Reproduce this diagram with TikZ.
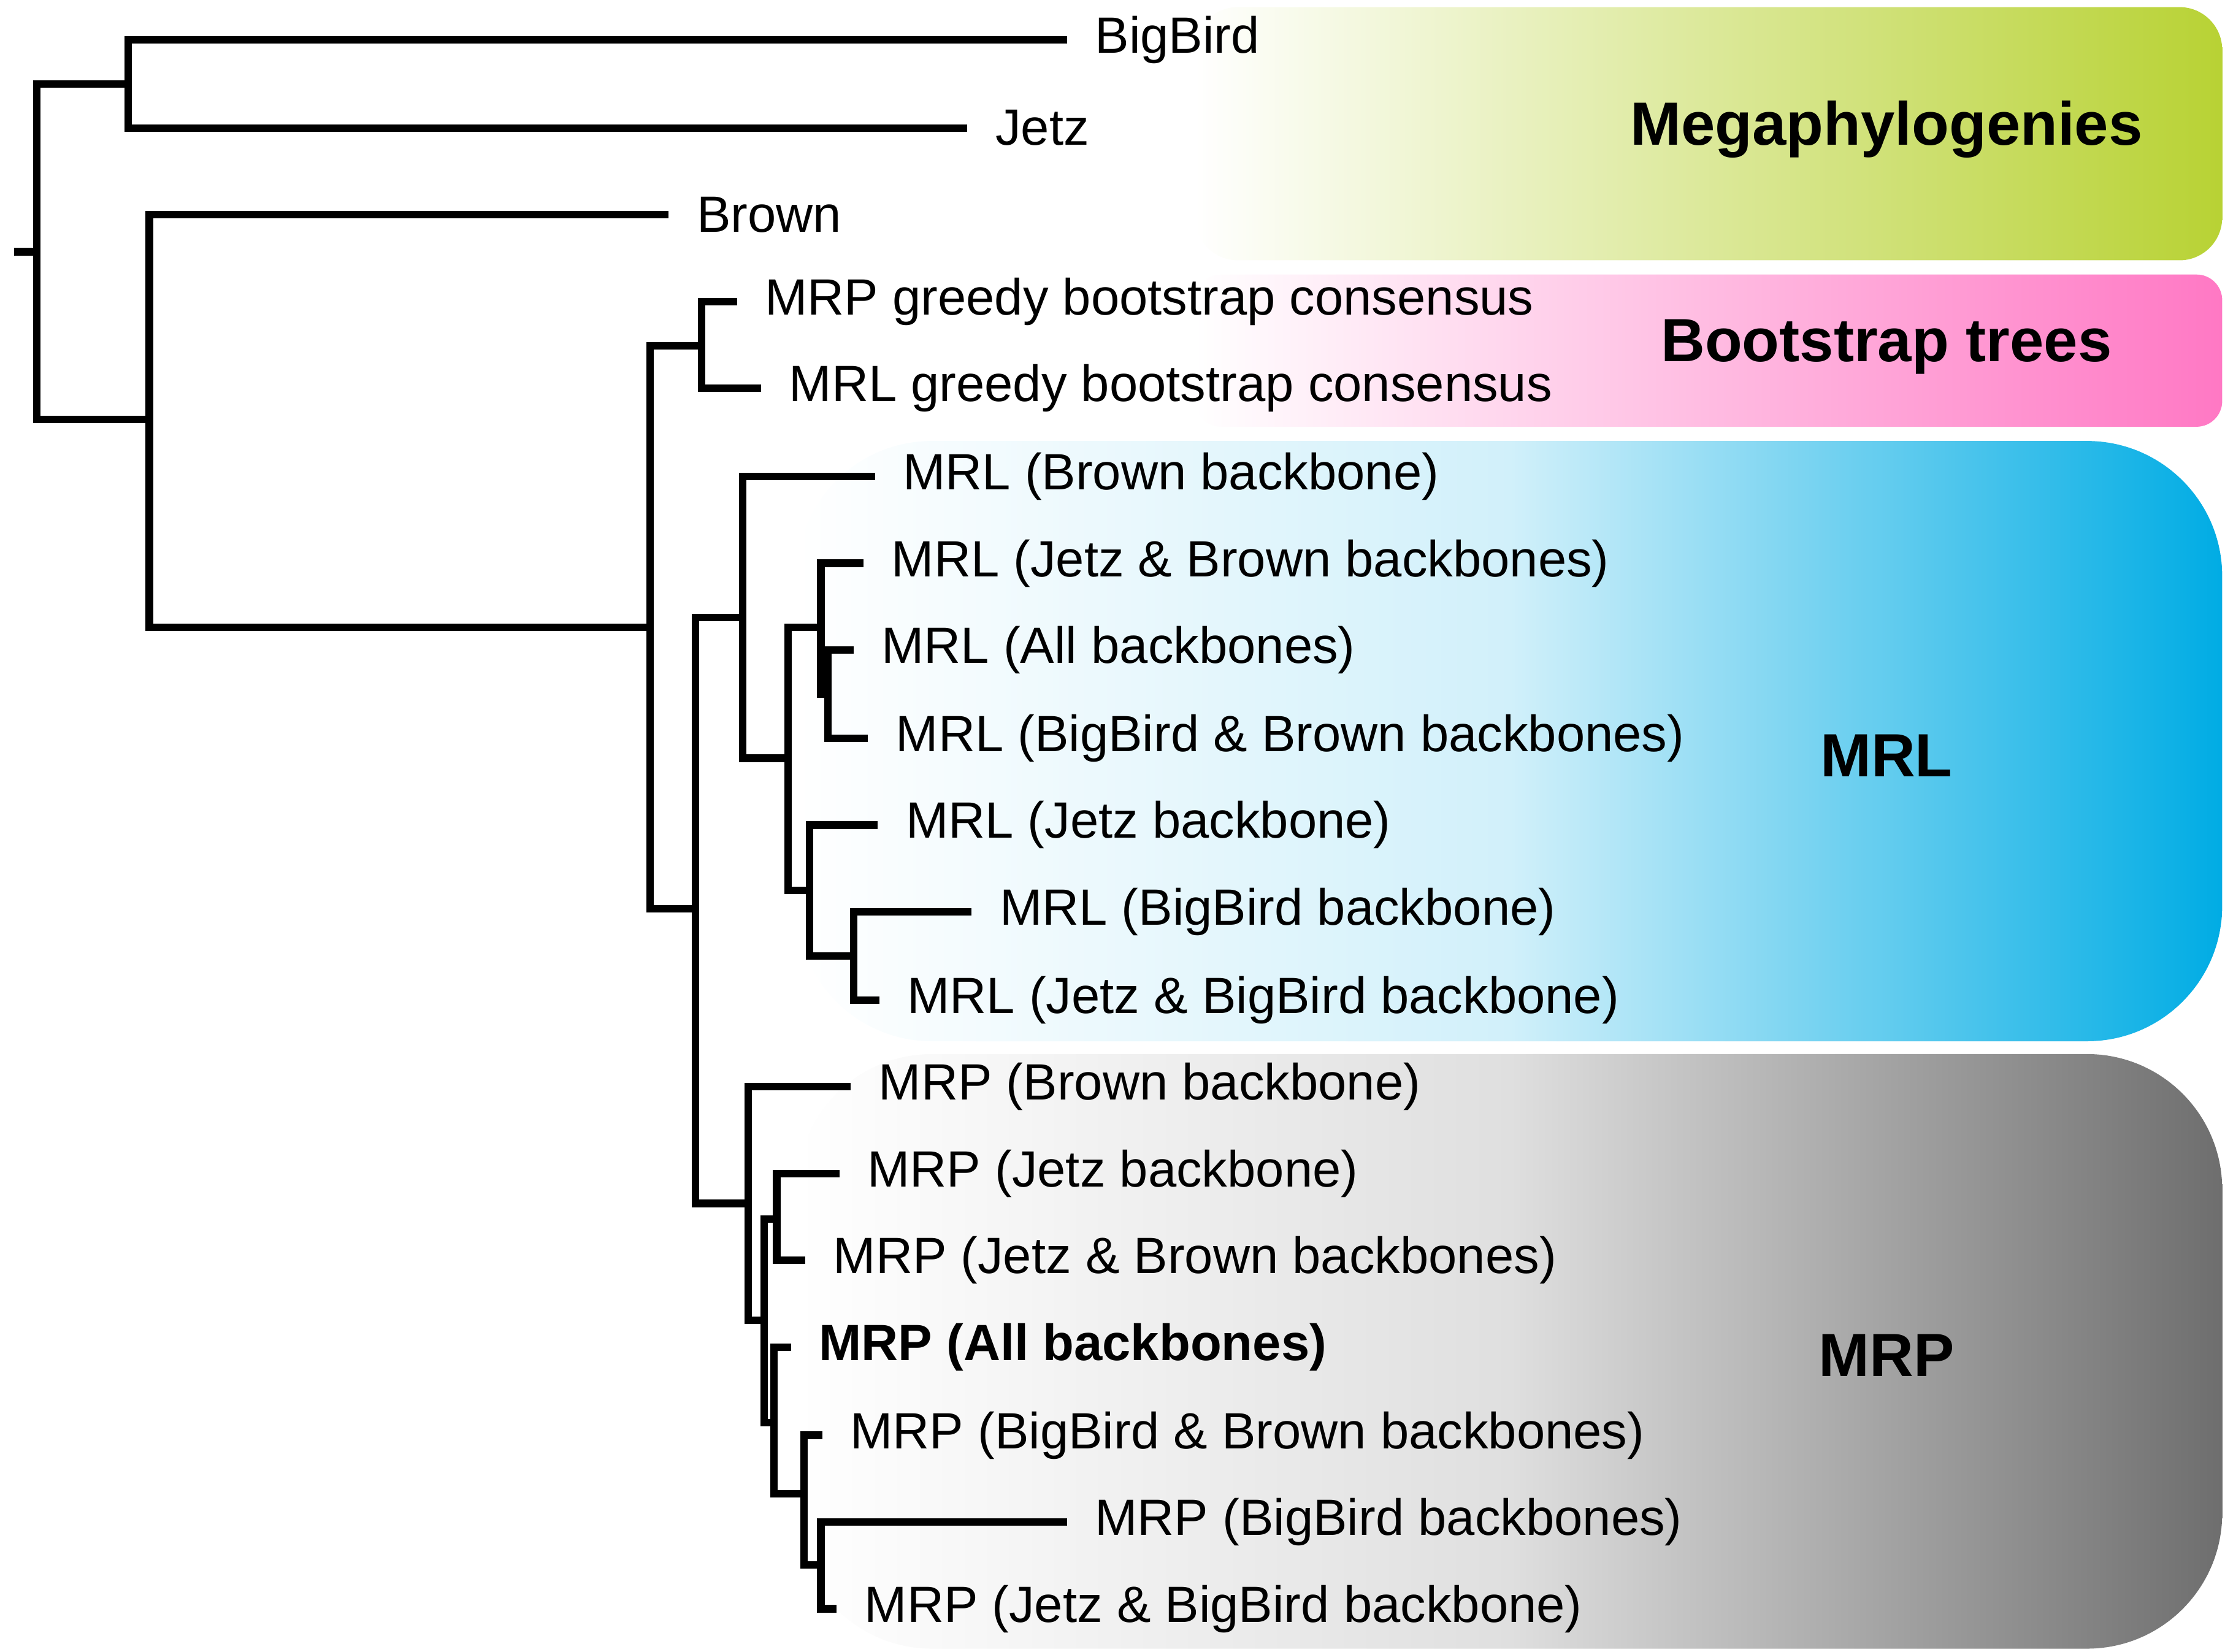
\documentclass[tikz,border=0pt]{standalone}
\usepackage{fontspec}
\setmainfont{Liberation Sans}
\usetikzlibrary{positioning}
\definecolor{megagreen}{RGB}{184,210,52}
\definecolor{bootpink}{RGB}{255,120,196}
\definecolor{mrlblue}{RGB}{0,172,228}
\definecolor{mrpgray}{RGB}{110,110,110}
\tikzset{
  branch/.style={line width=1.5pt, line join=miter},
  leaf/.style={right=0.19cm of #1, inner sep=0pt, font=\fontsize{10.2}{12}\selectfont},
  group/.style={font=\fontsize{12.2}{14}\selectfont\bfseries},
}
\begin{document}
\begin{tikzpicture}[x=0.01cm,y=-0.01cm]
  \useasboundingbox (0,0) rectangle (1564,1161);
  % colored groups
  \shade[left color=white, right color=megagreen, rounded corners=0.3cm] (840,5) rectangle (1562,183);
  \shade[left color=white, right color=bootpink, rounded corners=0.18cm] (840,193) rectangle (1562,300);
  \shade[left color=white, right color=mrlblue, middle color=mrlblue!18, rounded corners=0.95cm] (560,310) rectangle (1562,732);
  \shade[left color=white, right color=mrpgray, middle color=mrpgray!22, rounded corners=0.95cm] (560,741) rectangle (1562,1159);
  \node[group] (gmega) at (1326,91) {Megaphylogenies};
  \node[group] (gboot) at (1326,244) {Bootstrap trees};
  \node[group] (gmrl) at (1326,531) {MRL};
  \node[group] (gmrp) at (1326,953) {MRP};
  % inner nodes
  \coordinate (s) at (10,177);
  \coordinate (R) at (26,177);
  \coordinate (A) at (90,59);
  \coordinate (B) at (105,295);
  \coordinate (C) at (457,441);
  \coordinate (D) at (493,243);
  \coordinate (E) at (489,639);
  \coordinate (F) at (522,434);
  \coordinate (H) at (554,533);
  \coordinate (G) at (577,441);
  \coordinate (I) at (582,488);
  \coordinate (J) at (569,626);
  \coordinate (K) at (600,672);
  \coordinate (L) at (526,846);
  \coordinate (M) at (537,928);
  \coordinate (N) at (546,857);
  \coordinate (O) at (544,1000);
  \coordinate (P) at (565,1050);
  \coordinate (Q) at (577,1100);
  % leaf tips
  \coordinate (l1) at (750,28);   \coordinate (l2) at (680,90);
  \coordinate (l3) at (470,151);  \coordinate (l4) at (518,212);
  \coordinate (l5) at (535,273);  \coordinate (l6) at (615,335);
  \coordinate (l7) at (607,396);  \coordinate (l8) at (600,457);
  \coordinate (l9) at (610,519);  \coordinate (l10) at (617,580);
  \coordinate (l11) at (683,641); \coordinate (l12) at (618,703);
  \coordinate (l13) at (598,764); \coordinate (l14) at (590,825);
  \coordinate (l15) at (566,886); \coordinate (l16) at (556,947);
  \coordinate (l17) at (578,1009);\coordinate (l18) at (750,1070);
  \coordinate (l19) at (588,1131);
  % leaf labels
  \node[leaf=l1] (t1) {BigBird};
  \node[leaf=l2] (t2) {Jetz};
  \node[leaf=l3] (t3) {Brown};
  \node[leaf=l4] (t4) {MRP greedy bootstrap consensus};
  \node[leaf=l5] (t5) {MRL greedy bootstrap consensus};
  \node[leaf=l6] (t6) {MRL (Brown backbone)};
  \node[leaf=l7] (t7) {MRL (Jetz \& Brown backbones)};
  \node[leaf=l8] (t8) {MRL (All backbones)};
  \node[leaf=l9] (t9) {MRL (BigBird \& Brown backbones)};
  \node[leaf=l10] (t10) {MRL (Jetz backbone)};
  \node[leaf=l11] (t11) {MRL (BigBird backbone)};
  \node[leaf=l12] (t12) {MRL (Jetz \& BigBird backbone)};
  \node[leaf=l13] (t13) {MRP (Brown backbone)};
  \node[leaf=l14] (t14) {MRP (Jetz backbone)};
  \node[leaf=l15] (t15) {MRP (Jetz \& Brown backbones)};
  \node[leaf=l16, font=\fontsize{10.2}{12}\selectfont\bfseries] (t16) {MRP (All backbones)};
  \node[leaf=l17] (t17) {MRP (BigBird \& Brown backbones)};
  \node[leaf=l18] (t18) {MRP (BigBird backbones)};
  \node[leaf=l19] (t19) {MRP (Jetz \& BigBird backbone)};
  % branches
  \draw[branch] (s) -- (R);
  \draw[branch] (R) |- (A);  \draw[branch] (R) |- (B);
  \draw[branch] (A) |- (l1); \draw[branch] (A) |- (l2);
  \draw[branch] (B) |- (l3); \draw[branch] (B) |- (C);
  \draw[branch] (C) |- (D);  \draw[branch] (C) |- (E);
  \draw[branch] (D) |- (l4); \draw[branch] (D) |- (l5);
  \draw[branch] (E) |- (F);  \draw[branch] (E) |- (L);
  \draw[branch] (F) |- (l6); \draw[branch] (F) |- (H);
  \draw[branch] (H) |- (G);  \draw[branch] (H) |- (J);
  \draw[branch] (G) |- (l7); \draw[branch] (G) |- (I);
  \draw[branch] (I) |- (l8); \draw[branch] (I) |- (l9);
  \draw[branch] (J) |- (l10);\draw[branch] (J) |- (K);
  \draw[branch] (K) |- (l11);\draw[branch] (K) |- (l12);
  \draw[branch] (L) |- (l13);\draw[branch] (L) |- (M);
  \draw[branch] (M) |- (N);  \draw[branch] (M) |- (O);
  \draw[branch] (N) |- (l14);\draw[branch] (N) |- (l15);
  \draw[branch] (O) |- (l16);\draw[branch] (O) |- (P);
  \draw[branch] (P) |- (l17);\draw[branch] (P) |- (Q);
  \draw[branch] (Q) |- (l18);\draw[branch] (Q) |- (l19);
\end{tikzpicture}
\end{document}
